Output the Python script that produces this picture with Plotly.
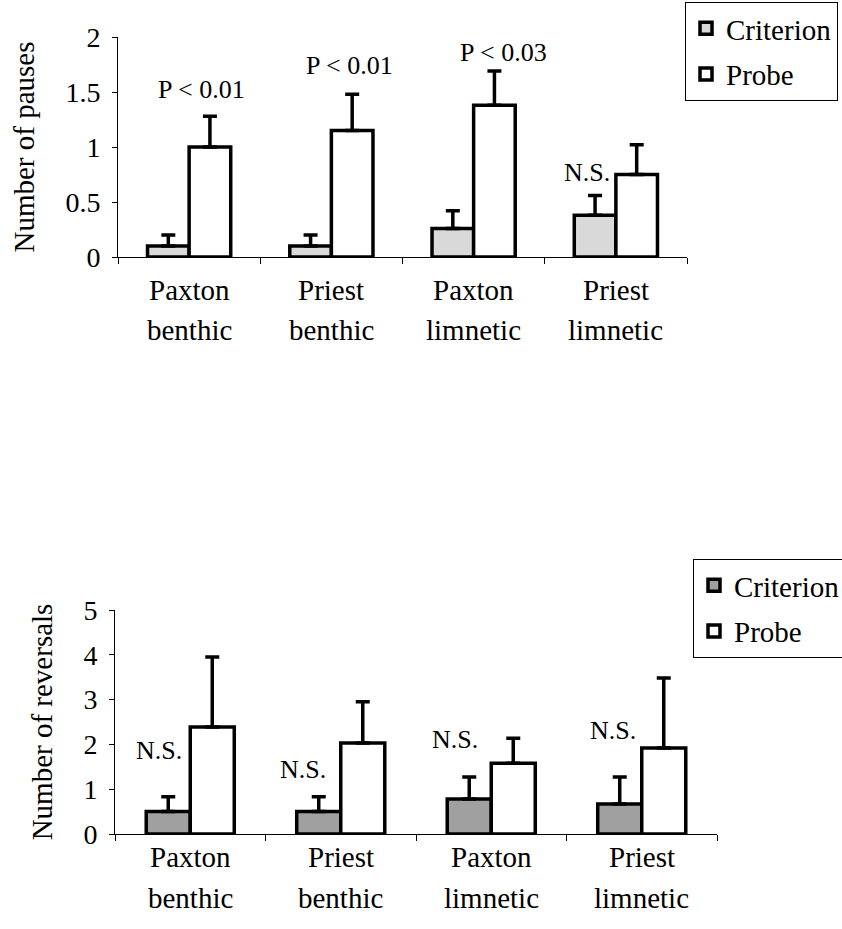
import plotly.graph_objects as go

# Groups compared in both panels
categories = ["Paxton benthic", "Priest benthic", "Paxton limnetic", "Priest limnetic"]

# (a) Number of pauses: means and upper standard errors
pauses_criterion = [0.10, 0.10, 0.26, 0.38]
pauses_criterion_err = [0.10, 0.10, 0.16, 0.18]
pauses_probe = [1.00, 1.15, 1.38, 0.75]
pauses_probe_err = [0.28, 0.33, 0.31, 0.27]
pauses_sig = ["P < 0.01", "P < 0.01", "P < 0.03", "N.S."]

# (b) Number of reversals: means and upper standard errors
rev_criterion = [0.50, 0.50, 0.78, 0.67]
rev_criterion_err = [0.33, 0.33, 0.49, 0.60]
rev_probe = [2.39, 2.03, 1.58, 1.92]
rev_probe_err = [1.56, 0.92, 0.56, 1.56]
rev_sig = ["N.S.", "N.S.", "N.S.", "N.S."]

y_ticks_a = [0, 0.5, 1, 1.5, 2]
y_ticks_b = [0, 1, 2, 3, 4, 5]

FONT = "Liberation Serif"
W, H = 842, 929

idx = list(range(len(categories)))


def err(values):
    return dict(type="data", array=values, arrayminus=[0] * len(values),
                symmetric=False, color="black", thickness=3.5, width=7)


def bar(name, y, e, fill, xa, ya, legend):
    return go.Bar(
        x=idx, y=y, name=name, xaxis=xa, yaxis=ya, legend=legend,
        legendgroup=legend + name,
        marker=dict(color=fill, line=dict(color="black", width=3.5)),
        error_y=err(e),
    )


fig = go.Figure()
fig.add_trace(bar("Criterion", pauses_criterion, pauses_criterion_err, "#d9d9d9", "x", "y", "legend"))
fig.add_trace(bar("Probe", pauses_probe, pauses_probe_err, "white", "x", "y", "legend"))
fig.add_trace(bar("Criterion", rev_criterion, rev_criterion_err, "#a0a0a0", "x2", "y2", "legend2"))
fig.add_trace(bar("Probe", rev_probe, rev_probe_err, "white", "x2", "y2", "legend2"))


def px_x(a, b):
    return [a / W, b / W]


def px_y(top, bottom):
    return [1 - bottom / H, 1 - top / H]


axis_common = dict(showline=True, linecolor="black", linewidth=1, ticks="outside",
                   tickcolor="black", showgrid=False, zeroline=False,
                   tickfont=dict(family=FONT, size=28, color="black"))
x_bounds = [-0.5, 0.5, 1.5, 2.5, 3.5]

fig.update_layout(
    width=W, height=H,
    margin=dict(l=0, r=0, t=0, b=0, autoexpand=False),
    paper_bgcolor="white", plot_bgcolor="white",
    barmode="group", bargap=0.415, bargroupgap=0,
    font=dict(family=FONT, color="black"),
    xaxis=dict(domain=px_x(118, 687), range=[-0.5, 3.5], tickvals=x_bounds,
               ticktext=[""] * 5, ticklen=6, anchor="y", **axis_common),
    yaxis=dict(domain=px_y(37, 257), range=[0, 2], tickvals=y_ticks_a,
               ticktext=[f"{v:g}" for v in y_ticks_a], ticklen=5, ticklabelstandoff=6,
               anchor="x",
               title=dict(text="Number of pauses", font=dict(family=FONT, size=29), standoff=22),
               **axis_common),
    xaxis2=dict(domain=px_x(115, 717), range=[-0.5, 3.5], tickvals=x_bounds,
                ticktext=[""] * 5, ticklen=6, anchor="y2", **axis_common),
    yaxis2=dict(domain=px_y(610, 834), range=[0, 5], tickvals=y_ticks_b,
                ticktext=[f"{v:g}" for v in y_ticks_b], ticklen=5, ticklabelstandoff=6,
                anchor="x2",
                title=dict(text="Number of reversals", font=dict(family=FONT, size=29), standoff=22),
                **axis_common),
    legend=dict(x=685 / W, y=1 - 2 / H, xanchor="left", yanchor="top",
                bordercolor="black", borderwidth=1, bgcolor="white",
                font=dict(family=FONT, size=29, color="black"),
                traceorder="grouped", tracegroupgap=5, itemwidth=30),
    legend2=dict(x=693 / W, y=1 - 559 / H, xanchor="left", yanchor="top",
                 bordercolor="black", borderwidth=1, bgcolor="white",
                 font=dict(family=FONT, size=29, color="black"),
                 traceorder="grouped", tracegroupgap=5, itemwidth=30),
)

ann = []

# Category labels, two lines each, under both panels
for xa, y1, y2 in (("x", 290, 330), ("x2", 857, 898)):
    for i, c in enumerate(categories):
        first, second = c.split(" ", 1)
        for text, ypx in ((first, y1), (second, y2)):
            ann.append(dict(x=i, y=1 - ypx / H, xref=xa, yref="paper", text=text,
                            showarrow=False, xanchor="center", yanchor="middle",
                            font=dict(family=FONT, size=29, color="black")))

# Significance labels: (x offset from group centre, label height in data units)
sig_pos_a = [(0.09, 1.52), (0.13, 1.745), (0.21, 1.86), (-0.20, 0.77)]
sig_pos_b = [(-0.21, 1.875), (-0.25, 1.45), (-0.24, 2.10), (-0.19, 2.32)]
for (xa, ya, labels, pos) in (("x", "y", pauses_sig, sig_pos_a), ("x2", "y2", rev_sig, sig_pos_b)):
    for i, (lab, (dx, yy)) in enumerate(zip(labels, pos)):
        ann.append(dict(x=i + dx, y=yy, xref=xa, yref=ya, text=lab, showarrow=False,
                        xanchor="center", yanchor="middle",
                        font=dict(family=FONT, size=26, color="black")))

# Panel tags
ann.append(dict(x=-0.18, y=2.04, xref="x", yref="y", text="(a)", showarrow=False,
                font=dict(family=FONT, size=27, color="black")))
ann.append(dict(x=-0.25, y=5.07, xref="x2", yref="y2", text="(b)", showarrow=False,
                font=dict(family=FONT, size=27, color="black")))

fig.update_layout(annotations=ann)
fig.write_html("out.html")
